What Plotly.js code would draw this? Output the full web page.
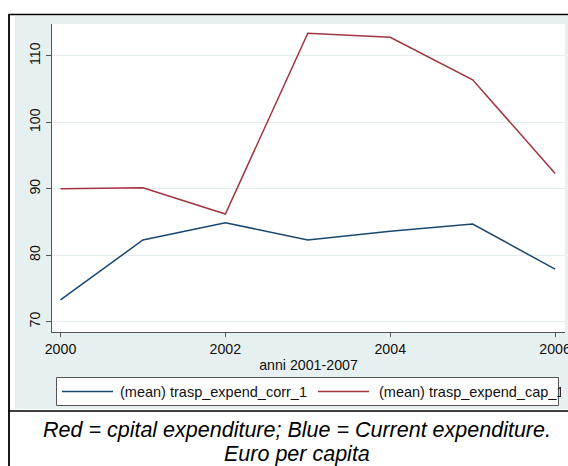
<!DOCTYPE html>
<html>
<head>
<meta charset="utf-8">
<script src="https://cdn.plot.ly/plotly-3.0.1.min.js"></script>
<style>
  html, body { margin: 0; padding: 0; background: #ffffff; }
  #chart { width: 568px; height: 466px; }
</style>
</head>
<body>
<div id="chart"></div>
<script>
// Years on the horizontal axis
const years = [2000, 2001, 2002, 2003, 2004, 2005, 2006];
// Mean current transport expenditure, euro per capita
const expendCorr = [73.3, 82.3, 84.9, 82.3, 83.6, 84.7, 77.9];
// Mean capital transport expenditure, euro per capita
const expendCap = [90.0, 90.15, 86.2, 113.4, 112.8, 106.4, 92.3];
// Series labels and tick positions
const seriesNames = ['(mean) trasp_expend_corr_1', '(mean) trasp_expend_cap_1'];
const xTicks = [2000, 2002, 2004, 2006];
const yTicks = [70, 80, 90, 100, 110];
const xTitle = 'anni 2001-2007';
const noteLine1 = 'Red = cpital expenditure; Blue = Current expenditure.';
const noteLine2 = 'Euro per capita';

const W = 568, H = 466;
const M = { l: 52, r: 3, t: 24, b: 134 };
const plotW = W - M.l - M.r, plotH = H - M.t - M.b;
// pixel -> paper coordinate helpers for the decorations around the plot
const px = x => (x - M.l) / plotW;
const py = y => (M.t + plotH - y) / plotH;

const navy = '#1a476f';
const maroon = '#a0353e';
const font = '"Liberation Sans", Arial, Helvetica, sans-serif';
const regionBg = '#e7f0f1';

const traces = [
  { x: years, y: expendCorr, name: seriesNames[0], type: 'scatter', mode: 'lines',
    line: { color: navy, width: 1.5 } },
  { x: years, y: expendCap, name: seriesNames[1], type: 'scatter', mode: 'lines',
    line: { color: maroon, width: 1.5 } }
];

const shapes = [
  // graph region background
  { type: 'rect', xref: 'paper', yref: 'paper', layer: 'below',
    x0: px(15), x1: px(570), y0: py(409), y1: py(16),
    fillcolor: regionBg, line: { width: 0 } },
  // plot region
  { type: 'rect', xref: 'paper', yref: 'paper', layer: 'below',
    x0: px(51.5), x1: px(565), y0: py(332), y1: py(24),
    fillcolor: '#ffffff', line: { width: 0 } },
  // legend box
  { type: 'rect', xref: 'paper', yref: 'paper', layer: 'below',
    x0: px(56.5), x1: px(558.5), y0: py(405.5), y1: py(377.5),
    fillcolor: '#ffffff', line: { color: '#555555', width: 1 } },
  // legend keys
  { type: 'line', xref: 'paper', yref: 'paper', layer: 'below',
    x0: px(62), x1: px(113), y0: py(391.5), y1: py(391.5),
    line: { color: navy, width: 1.5 } },
  { type: 'line', xref: 'paper', yref: 'paper', layer: 'below',
    x0: px(318), x1: px(369), y0: py(391.5), y1: py(391.5),
    line: { color: maroon, width: 1.5 } },
  // outer frame and note separator
  { type: 'line', xref: 'paper', yref: 'paper', layer: 'above',
    x0: px(8.5), x1: px(570), y0: py(14.5), y1: py(14.5),
    line: { color: '#000000', width: 1.5 } },
  { type: 'line', xref: 'paper', yref: 'paper', layer: 'above',
    x0: px(9), x1: px(9), y0: py(14), y1: py(470),
    line: { color: '#000000', width: 1.8 } },
  { type: 'line', xref: 'paper', yref: 'paper', layer: 'above',
    x0: px(8.5), x1: px(570), y0: py(411), y1: py(411),
    line: { color: '#000000', width: 1.5 } }
];

const annotations = [
  { xref: 'paper', yref: 'paper', x: px(119), y: py(391.5), xanchor: 'left', yanchor: 'middle',
    text: seriesNames[0], showarrow: false, borderpad: 0,
    font: { family: font, size: 14.5, color: '#111111' } },
  { xref: 'paper', yref: 'paper', x: px(378), y: py(391.5), xanchor: 'left', yanchor: 'middle',
    text: seriesNames[1], showarrow: false, borderpad: 0, width: 182, align: 'left',
    font: { family: font, size: 14.5, color: '#111111' } },
  { xref: 'paper', yref: 'paper', x: px(297), y: py(429.5), xanchor: 'center', yanchor: 'middle',
    text: '<i>' + noteLine1 + '</i>', showarrow: false, borderpad: 0,
    font: { family: font, size: 21.5, color: '#000000' } },
  { xref: 'paper', yref: 'paper', x: px(297), y: py(453.5), xanchor: 'center', yanchor: 'middle',
    text: '<i>' + noteLine2 + '</i>', showarrow: false, borderpad: 0,
    font: { family: font, size: 21.5, color: '#000000' } }
];

const layout = {
  width: W, height: H,
  margin: M,
  paper_bgcolor: '#ffffff',
  plot_bgcolor: 'rgba(0,0,0,0)',
  showlegend: false,
  font: { family: font, color: '#111111' },
  xaxis: {
    range: [1999.897, 2006.12],
    tickmode: 'array', tickvals: xTicks, ticktext: xTicks.map(String),
    ticks: 'outside', ticklen: 4, tickcolor: '#555555', tickwidth: 1,
    ticklabeloverflow: 'allow',
    showline: true, linecolor: '#555555', linewidth: 1,
    showgrid: false, zeroline: false,
    tickfont: { family: font, size: 14.2, color: '#111111' },
    title: { text: xTitle, standoff: 4, font: { family: font, size: 14.2, color: '#111111' } }
  },
  yaxis: {
    range: [68.45, 114.8],
    tickmode: 'array', tickvals: yTicks, ticktext: yTicks.map(String),
    ticks: 'outside', ticklen: 5, tickcolor: '#555555', tickwidth: 1,
    tickangle: -90,
    showline: true, linecolor: '#555555', linewidth: 1,
    showgrid: true, gridcolor: '#e3edef', gridwidth: 1,
    zeroline: false,
    tickfont: { family: font, size: 14.2, color: '#111111' }
  },
  shapes: shapes,
  annotations: annotations
};

Plotly.newPlot('chart', traces, layout, { displayModeBar: false, staticPlot: true });
</script>
</body>
</html>
